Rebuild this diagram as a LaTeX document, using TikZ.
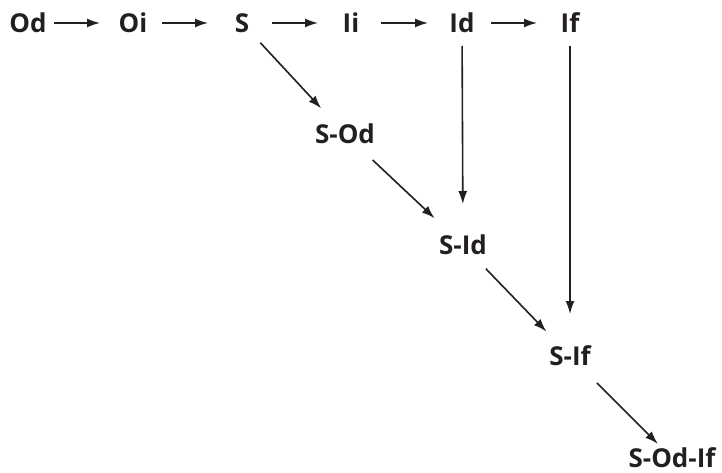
\documentclass[tikz,border=0pt]{standalone}
\usepackage{fontspec}
\setmainfont{Open Sans}
\usetikzlibrary{arrows.meta}
\definecolor{ink}{HTML}{231F20}
\begin{document}
\begin{tikzpicture}[x=1pt,y=1pt,
  lbl/.style={font=\fontsize{26}{30}\selectfont\bfseries, text=ink, inner sep=0pt},
  arr/.style={draw=ink, line width=1.6pt, -{Latex[length=13pt,width=9pt]}}]
\useasboundingbox (0,0) rectangle (722,-473);
\node[lbl] (od)   at (28,-23)  {Od};
\node[lbl] (oi)   at (133,-23) {Oi};
\node[lbl] (s)    at (242,-23) {S};
\node[lbl] (ii)   at (351,-23) {Ii};
\node[lbl] (id)   at (462,-23) {Id};
\node[lbl] (if)   at (570,-23) {If};
\node[lbl] (sod)  at (345,-134) {S-Od};
\node[lbl] (sid)  at (463,-245) {S-Id};
\node[lbl] (sif)  at (570,-356) {S-If};
\node[lbl] (sodif) at (672,-458) {S-Od-If};
\draw[arr, shorten <=26pt, shorten >=33pt] (od.center) -- (oi.center);
\draw[arr, shorten <=29pt, shorten >=34pt] (oi.center) -- (s.center);
\draw[arr, shorten <=30pt, shorten >=33pt] (s.center) -- (ii.center);
\draw[arr, shorten <=30pt, shorten >=34pt] (ii.center) -- (id.center);
\draw[arr, shorten <=29pt, shorten >=33pt] (id.center) -- (if.center);
\draw[arr, shorten <=23pt, shorten >=41pt] (id.center) -- (sid.center);
\draw[arr, shorten <=23pt, shorten >=42pt] (if.center) -- (sif.center);
\draw[arr, shorten <=27pt, shorten >=35pt] (s.center) -- (sod.center);
\draw[arr, shorten <=38pt, shorten >=39pt] (sod.center) -- (sid.center);
\draw[arr, shorten <=33pt, shorten >=34pt] (sid.center) -- (sif.center);
\draw[arr, shorten <=38pt, shorten >=20pt] (sif.center) -- (sodif.center);
\end{tikzpicture}
\end{document}
